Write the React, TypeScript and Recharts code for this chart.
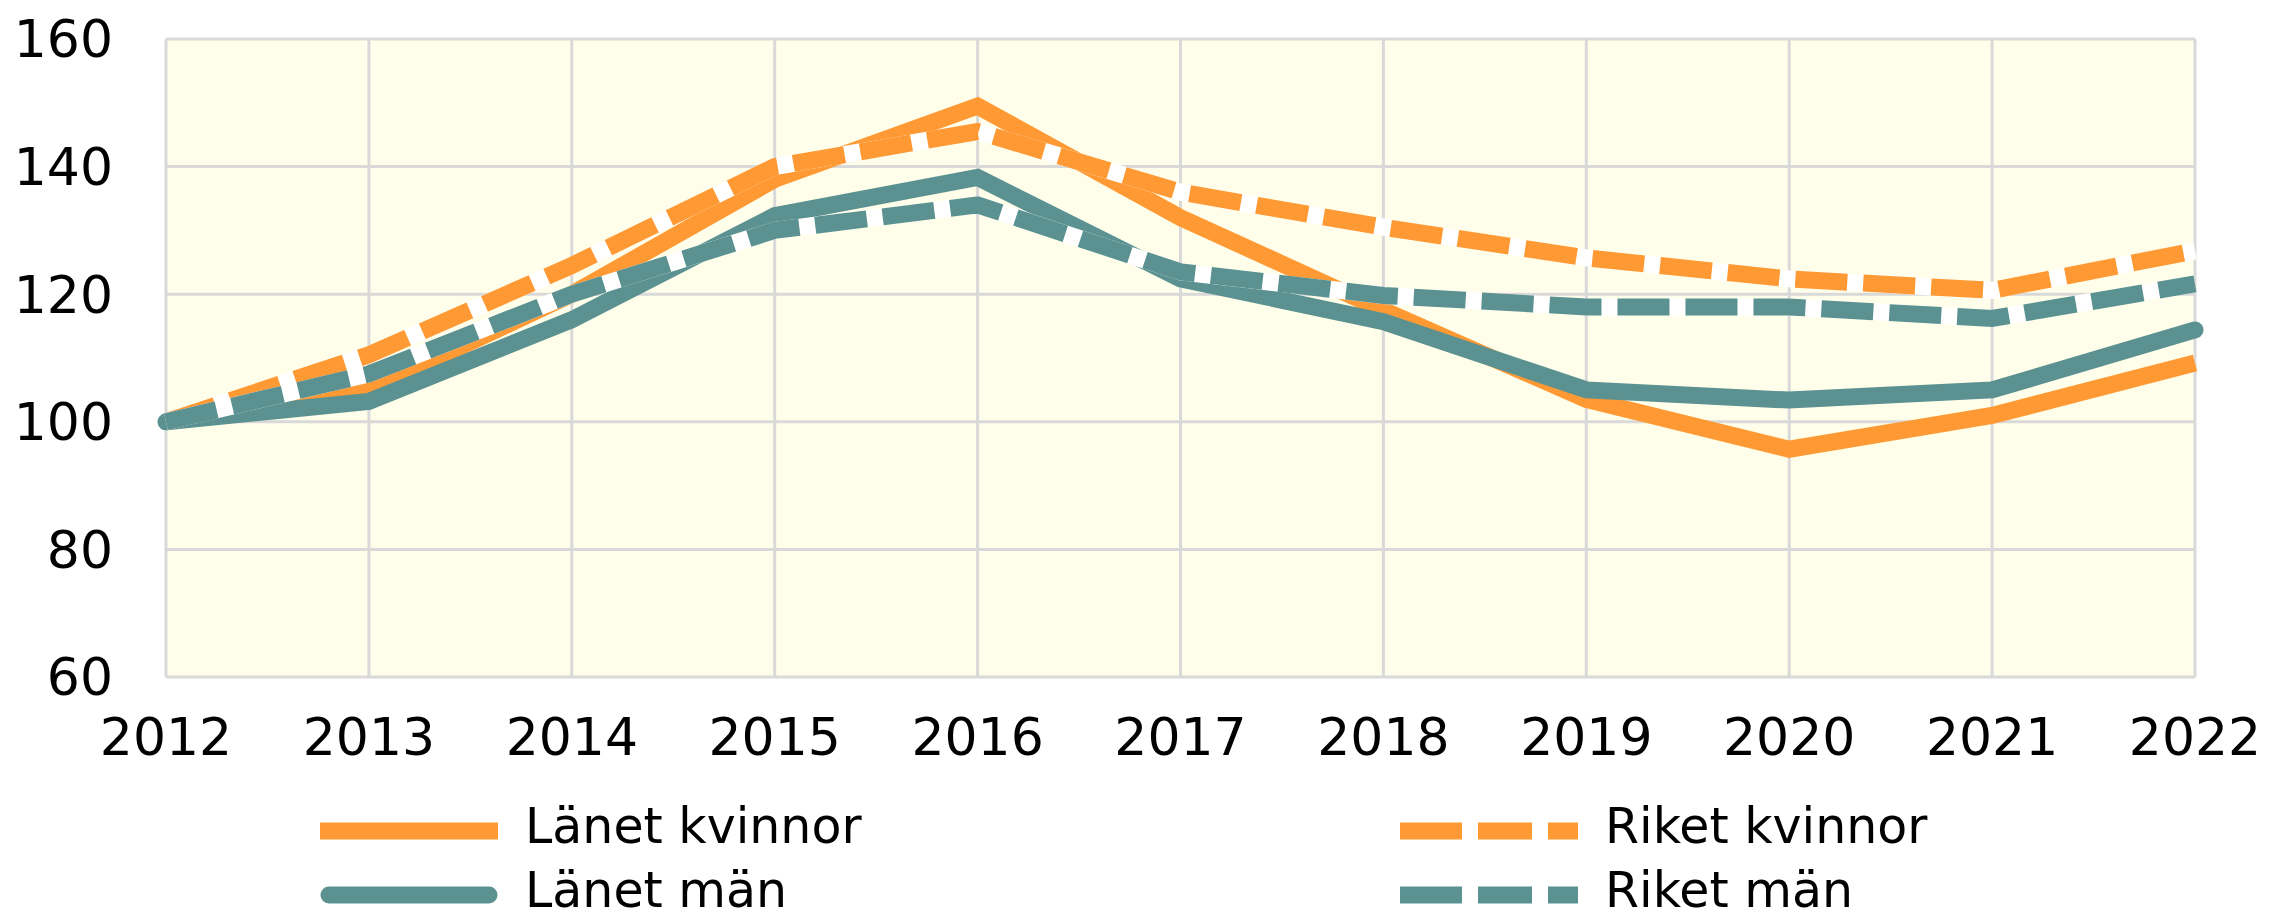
import { LineChart, Line, XAxis, YAxis, CartesianGrid, Legend } from 'recharts';

const years = ['2012', '2013', '2014', '2015', '2016', '2017', '2018', '2019', '2020', '2021', '2022'];
const yTicks = [60, 80, 100, 120, 140, 160];

const lanetKvinnor = [100, 105, 120, 138, 149.5, 132, 117.5, 103.5, 95.7, 101, 109.2];
const riketKvinnor = [100, 110.5, 124.5, 140, 145.5, 136, 130.5, 125.7, 122.4, 120.6, 126.8];
const lanetMan = [100, 103.2, 116, 132.3, 138.3, 122.4, 115.7, 105, 103.4, 105, 114.4];
const riketMan = [100, 107.5, 120, 130, 134, 123.5, 119.8, 118, 118, 116.2, 121.6];

const ORANGE = '#FF9933';
const TEAL = '#5B9191';
const FONT = '"DejaVu Sans", Verdana, sans-serif';

const data = years.map((year, i) => ({
  year,
  lk: lanetKvinnor[i],
  rk: riketKvinnor[i],
  lm: lanetMan[i],
  rm: riketMan[i],
}));

// legend is row-major, two columns like the Excel original
const legendItems = [
  { name: 'Länet kvinnor', color: ORANGE, dashed: false, round: false },
  { name: 'Riket kvinnor', color: ORANGE, dashed: true, round: false },
  { name: 'Länet män', color: TEAL, dashed: false, round: true },
  { name: 'Riket män', color: TEAL, dashed: true, round: false },
];

const renderLegend = () => (
  <svg width={2272} height={129} style={{ display: 'block' }}>
    {legendItems.map((item, i) => {
      const col = i % 2;
      const row = Math.floor(i / 2);
      const x0 = col === 0 ? 320 : 1400;
      const cy = 41 + row * 64;
      return (
        <g key={item.name}>
          <line
            x1={item.round ? x0 + 9 : x0}
            x2={item.round ? x0 + 169 : x0 + 178}
            y1={cy}
            y2={cy}
            stroke={item.color}
            strokeWidth={17}
            strokeLinecap={item.round ? 'round' : 'butt'}
            strokeDasharray={item.dashed ? '62 16 54 16' : undefined}
          />
          <text x={x0 + 205} y={cy + 12} fontSize={49} fontFamily={FONT} fill="#000">
            {item.name}
          </text>
        </g>
      );
    })}
  </svg>
);

export default function App() {
  return (
    <div style={{ position: 'absolute', left: 0, top: 0, width: 2272, height: 919, background: '#fff' }}>
      <LineChart
        width={2272}
        height={919}
        data={data}
        margin={{ top: 39, right: 77, left: 0, bottom: 162 }}
      >
        <CartesianGrid fill="#FFFEEA" stroke="#D9D9D9" strokeWidth={3} />
        <XAxis
          dataKey="year"
          height={80}
          axisLine={false}
          tickLine={false}
          tickSize={0}
          tickMargin={41}
          interval={0}
          tick={{ fontSize: 52, fontFamily: FONT, fill: '#000' }}
        />
        <YAxis
          width={166}
          domain={[60, 160]}
          ticks={yTicks}
          axisLine={false}
          tickLine={false}
          tickSize={0}
          tickMargin={53}
          tick={{ fontSize: 52, fontFamily: FONT, fill: '#000' }}
        />
        <Legend
          layout="horizontal"
          verticalAlign="middle"
          align="center"
          content={renderLegend}
          wrapperStyle={{ position: 'absolute', top: 790, left: 0, width: 2272, height: 129 }}
        />
        <Line dataKey="lk" name="Länet kvinnor" stroke={ORANGE} strokeWidth={17} dot={false} isAnimationActive={false} />
        <Line dataKey="rk" legendType="none" stroke="#FFFFFF" strokeWidth={17} dot={false} isAnimationActive={false} />
        <Line dataKey="rk" name="Riket kvinnor" stroke={ORANGE} strokeWidth={17} strokeDasharray="52 16" dot={false} isAnimationActive={false} />
        <Line dataKey="lm" name="Länet män" stroke={TEAL} strokeWidth={17} strokeLinecap="round" dot={false} isAnimationActive={false} />
        <Line dataKey="rm" legendType="none" stroke="#FFFFFF" strokeWidth={17} dot={false} isAnimationActive={false} />
        <Line dataKey="rm" name="Riket män" stroke={TEAL} strokeWidth={17} strokeDasharray="52 16" dot={false} isAnimationActive={false} />
      </LineChart>
    </div>
  );
}
